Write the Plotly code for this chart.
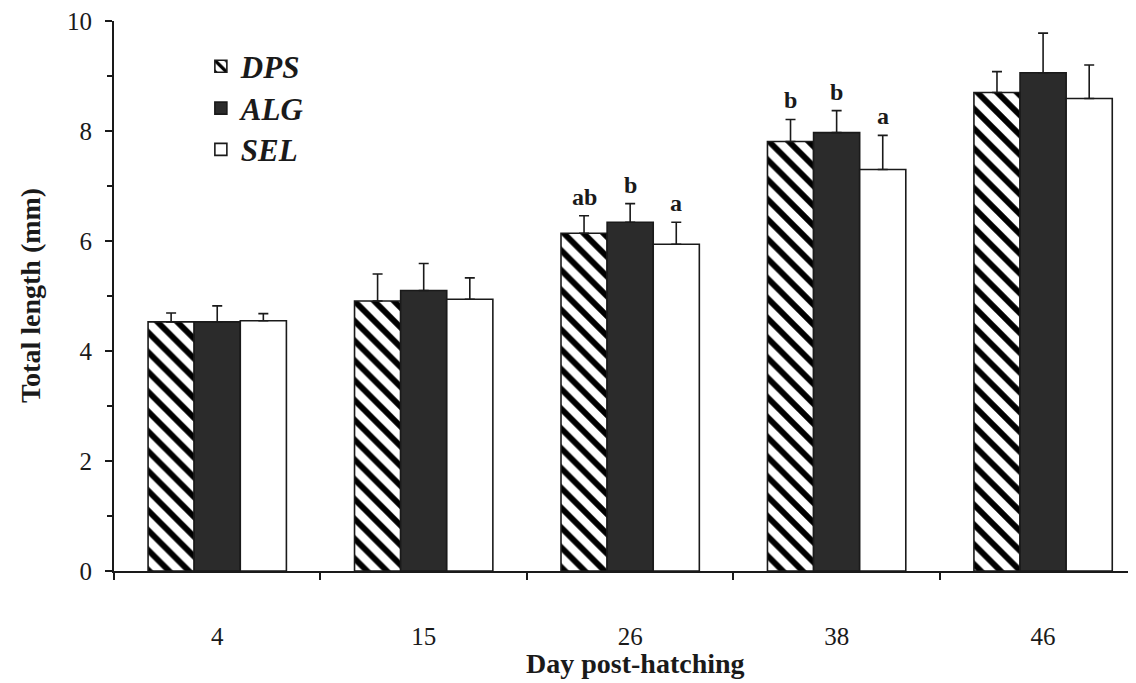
import plotly.graph_objects as go

days = ["4", "15", "26", "38", "46"]
series_names = ["DPS", "ALG", "SEL"]
dps = [4.53, 4.91, 6.14, 7.81, 8.70]
alg = [4.53, 5.10, 6.34, 7.97, 9.06]
sel = [4.55, 4.94, 5.94, 7.30, 8.59]
dps_err = [0.16, 0.49, 0.32, 0.40, 0.38]
alg_err = [0.29, 0.49, 0.34, 0.40, 0.72]
sel_err = [0.13, 0.39, 0.40, 0.62, 0.61]
letters_dps = ["", "", "ab", "b", ""]
letters_alg = ["", "", "b", "b", ""]
letters_sel = ["", "", "a", "a", ""]

FONT = "Liberation Serif"
INK = "#1a1a1a"
BARGAP = 0.33

fig = go.Figure()
styles = [
    dict(color="white", pattern=dict(shape="\\", fgcolor="black", bgcolor="white", fgopacity=1,
                                     fillmode="replace", size=14, solidity=0.42)),
    dict(color="#2b2b2b"),
    dict(color="white"),
]
vals = [dps, alg, sel]
errs = [dps_err, alg_err, sel_err]
legends = ["legend", "legend2", "legend3"]
for k in range(3):
    m = dict(styles[k])
    m["line"] = dict(color=INK, width=1.6)
    fig.add_trace(go.Bar(
        x=days, y=vals[k], name=series_names[k], marker=m,
        legend=legends[k], showlegend=True,
        error_y=dict(type="data", array=errs[k], arrayminus=[0] * len(days),
                     symmetric=False, color=INK, thickness=1.6, width=5),
    ))

# significance letters
w = (1 - BARGAP) / 3
for k, letters in enumerate([letters_dps, letters_alg, letters_sel]):
    for i, t in enumerate(letters):
        if t:
            fig.add_annotation(x=i + (k - 1) * w, y=vals[k][i] + errs[k][i], text=f"<b>{t}</b>",
                               showarrow=False, yanchor="bottom", yshift=4,
                               font=dict(family=FONT, size=24, color=INK))

# axis titles
fig.add_annotation(xref="paper", yref="paper", x=0.5, y=0, yanchor="middle", yshift=-92, xshift=10,
                   text="<b>Day post-hatching</b>", showarrow=False,
                   font=dict(family=FONT, size=28, color=INK))
fig.add_annotation(xref="paper", yref="paper", x=0, y=0.5, xanchor="center", xshift=-84,
                   text="<b>Total length (mm)</b>", textangle=-90, showarrow=False,
                   font=dict(family=FONT, size=28, color=INK))

leg_common = dict(bgcolor="rgba(0,0,0,0)", xanchor="left", yanchor="middle", x=0.085,
                  font=dict(family=FONT, size=31, color=INK, style="italic", weight="bold"))
fig.update_layout(
    width=1128, height=675,
    margin=dict(l=106, r=0, t=9, b=112),
    paper_bgcolor="white", plot_bgcolor="white",
    barmode="group", bargap=BARGAP, bargroupgap=0,
    showlegend=True,
    font=dict(family=FONT, color=INK),
    legend=dict(y=0.917, **leg_common),
    legend2=dict(y=0.841, **leg_common),
    legend3=dict(y=0.766, **leg_common),
    xaxis=dict(type="category", range=[-0.5, 4.45], showline=True, linewidth=2, linecolor=INK,
               ticks="outside", tickson="boundaries", ticklen=7, tickwidth=2, tickcolor=INK,
               showgrid=False, ticklabelstandoff=42, ticklabeloverflow="allow",
               tickfont=dict(family=FONT, size=25, color=INK)),
    yaxis=dict(range=[0, 10], dtick=2, showline=True, linewidth=2, linecolor=INK,
               ticks="outside", ticklen=7, tickwidth=2, tickcolor=INK, showgrid=False, zeroline=False,
               minor=dict(dtick=1, ticks="outside", ticklen=5, tickwidth=2, tickcolor=INK, showgrid=False),
               ticklabelstandoff=8, ticklabeloverflow="allow",
               tickfont=dict(family=FONT, size=25, color=INK)),
)

fig.write_html("out.html")
